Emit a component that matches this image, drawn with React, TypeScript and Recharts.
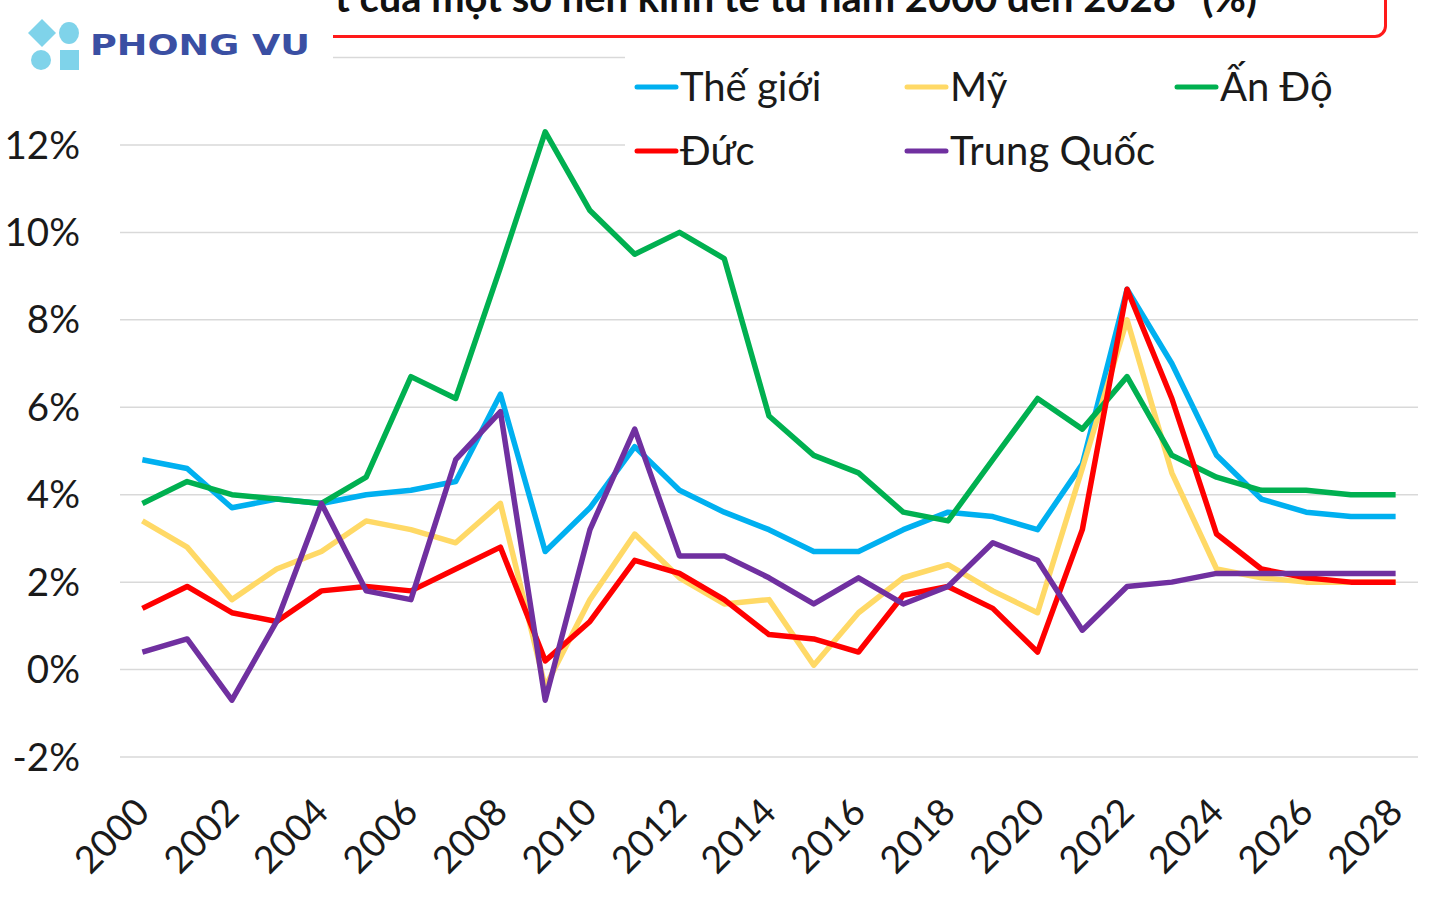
import React from 'react';
import { LineChart, Line, XAxis, YAxis, CartesianGrid, Legend } from 'recharts';

const years = [
  2000, 2001, 2002, 2003, 2004, 2005, 2006, 2007, 2008, 2009, 2010, 2011, 2012, 2013, 2014,
  2015, 2016, 2017, 2018, 2019, 2020, 2021, 2022, 2023, 2024, 2025, 2026, 2027, 2028,
];
const world = [4.8, 4.6, 3.7, 3.9, 3.8, 4.0, 4.1, 4.3, 6.3, 2.7, 3.7, 5.1, 4.1, 3.6, 3.2, 2.7, 2.7, 3.2, 3.6, 3.5, 3.2, 4.7, 8.7, 7.0, 4.9, 3.9, 3.6, 3.5, 3.5];
const us = [3.4, 2.8, 1.6, 2.3, 2.7, 3.4, 3.2, 2.9, 3.8, -0.4, 1.6, 3.1, 2.1, 1.5, 1.6, 0.1, 1.3, 2.1, 2.4, 1.8, 1.3, 4.6, 8.0, 4.5, 2.3, 2.1, 2.0, 2.0, 2.0];
const india = [3.8, 4.3, 4.0, 3.9, 3.8, 4.4, 6.7, 6.2, 9.2, 12.3, 10.5, 9.5, 10.0, 9.4, 5.8, 4.9, 4.5, 3.6, 3.4, 4.8, 6.2, 5.5, 6.7, 4.9, 4.4, 4.1, 4.1, 4.0, 4.0];
const germany = [1.4, 1.9, 1.3, 1.1, 1.8, 1.9, 1.8, 2.3, 2.8, 0.2, 1.1, 2.5, 2.2, 1.6, 0.8, 0.7, 0.4, 1.7, 1.9, 1.4, 0.4, 3.2, 8.7, 6.2, 3.1, 2.3, 2.1, 2.0, 2.0];
const china = [0.4, 0.7, -0.7, 1.1, 3.8, 1.8, 1.6, 4.8, 5.9, -0.7, 3.2, 5.5, 2.6, 2.6, 2.1, 1.5, 2.1, 1.5, 1.9, 2.9, 2.5, 0.9, 1.9, 2.0, 2.2, 2.2, 2.2, 2.2, 2.2];

const yTicks = [-2, 0, 2, 4, 6, 8, 10, 12, 14];
const xTicks = [2000, 2002, 2004, 2006, 2008, 2010, 2012, 2014, 2016, 2018, 2020, 2022, 2024, 2026, 2028];

const seriesNames = {
  world: 'Thế giới',
  us: 'Mỹ',
  india: 'Ấn Độ',
  germany: 'Đức',
  china: 'Trung Quốc',
};
const colors = {
  world: '#00b0f0',
  us: '#ffd966',
  india: '#00b050',
  germany: '#ff0000',
  china: '#7030a0',
};

const titleText = 't của một số nền kinh tế từ năm 2000 đến 2028* (%)';

const data = years.map((year, i) => ({
  year,
  world: world[i],
  us: us[i],
  india: india[i],
  germany: germany[i],
  china: china[i],
}));

const XTick = (props: any) => {
  const { x, y, payload } = props;
  const ty = y + 46;
  return (
    <text
      x={x}
      y={ty}
      dy="0.35em"
      textAnchor="end"
      transform={`rotate(-45, ${x}, ${ty})`}
      fontSize={37.5}
      fill="#1a1a1a"
      fontFamily="Lato"
    >
      {payload.value}
    </text>
  );
};

// legend laid out like the Excel one: 3 columns, 2 rows
const legendSlots: Record<string, [number, number]> = {
  world: [10, 0],
  us: [280, 0],
  india: [550, 0],
  germany: [10, 1],
  china: [280, 1],
};

const renderLegend = () => (
  <svg width={795} height={130}>
    {Object.keys(legendSlots).map((k) => {
      const [lx, row] = legendSlots[k];
      const cy = row === 0 ? 32 : 96;
      return (
        <g key={k}>
          <line x1={lx + 2} x2={lx + 41} y1={cy} y2={cy} stroke={(colors as any)[k]} strokeWidth={5} strokeLinecap="round" />
          <text x={lx + 45} y={cy + 14} fontSize={40} fill="#1a1a1a" fontFamily="Lato">
            {(seriesNames as any)[k]}
          </text>
        </g>
      );
    })}
  </svg>
);

const Logo = () => (
  <div style={{ position: 'absolute', left: 0, top: 0, width: 333, height: 78, background: '#fff' }}>
    <svg width={333} height={78}>
      <polygon points="42,19 56,33 42,47 28,33" fill="#7fd3ea" />
      <ellipse cx={69} cy={33} rx={10} ry={11} fill="#7fd3ea" />
      <ellipse cx={41} cy={60} rx={10} ry={10} fill="#7fd3ea" />
      <rect x={60} y={50} width={19} height={20} fill="#7fd3ea" />
      <text x={90} y={55} fontSize={28} fontWeight={700} fill="#3a4fa3" fontFamily="DejaVu Sans" textLength={220} lengthAdjust="spacingAndGlyphs">
        PHONG VU
      </text>
    </svg>
  </div>
);

export default function App() {
  return (
    <div style={{ position: 'absolute', left: 0, top: 0, width: 1440, height: 900, background: '#fff', overflow: 'hidden', fontFamily: 'Lato' }}>
      <LineChart width={1440} height={900} data={data} margin={{ top: 57.5, right: 22, bottom: 0, left: 0 }}>
        <CartesianGrid vertical={false} stroke="#d9d9d9" strokeWidth={1.5} />
        <XAxis
          dataKey="year"
          type="number"
          domain={[1999.5, 2028.5]}
          ticks={xTicks}
          axisLine={false}
          tickLine={false}
          tickSize={0}
          height={143}
          tick={<XTick />}
          interval={0}
        />
        <YAxis
          domain={[-2, 14]}
          ticks={yTicks}
          width={120}
          axisLine={false}
          tickLine={false}
          tickSize={0}
          tickMargin={40}
          tickFormatter={(v) => `${v}%`}
          tick={{ fontSize: 38.5, fill: '#1a1a1a', fontFamily: 'Lato' }}
        />
        {Object.keys(seriesNames).map((k) => (
          <Line
            key={k}
            dataKey={k}
            name={(seriesNames as any)[k]}
            stroke={(colors as any)[k]}
            strokeWidth={5.5}
            dot={false}
            strokeLinejoin="round"
            isAnimationActive={false}
          />
        ))}
        <Legend
          layout="vertical"
          align="center"
          verticalAlign="middle"
          content={renderLegend}
          wrapperStyle={{ left: 625, top: 55, width: 795, height: 130, background: '#fff' }}
        />
      </LineChart>
      <div
        style={{
          position: 'absolute',
          left: 150,
          top: -45,
          width: 1231,
          height: 77,
          border: '3px solid #ff1a1a',
          borderRadius: 12,
        }}
      />
      <svg style={{ position: 'absolute', left: 0, top: 0 }} width={1440} height={30}>
        <text x={335} y={12} fontSize={40} fontWeight={700} fill="#111" fontFamily="Lato" textLength={922} lengthAdjust="spacingAndGlyphs">
          {titleText}
        </text>
      </svg>
      <Logo />
    </div>
  );
}
